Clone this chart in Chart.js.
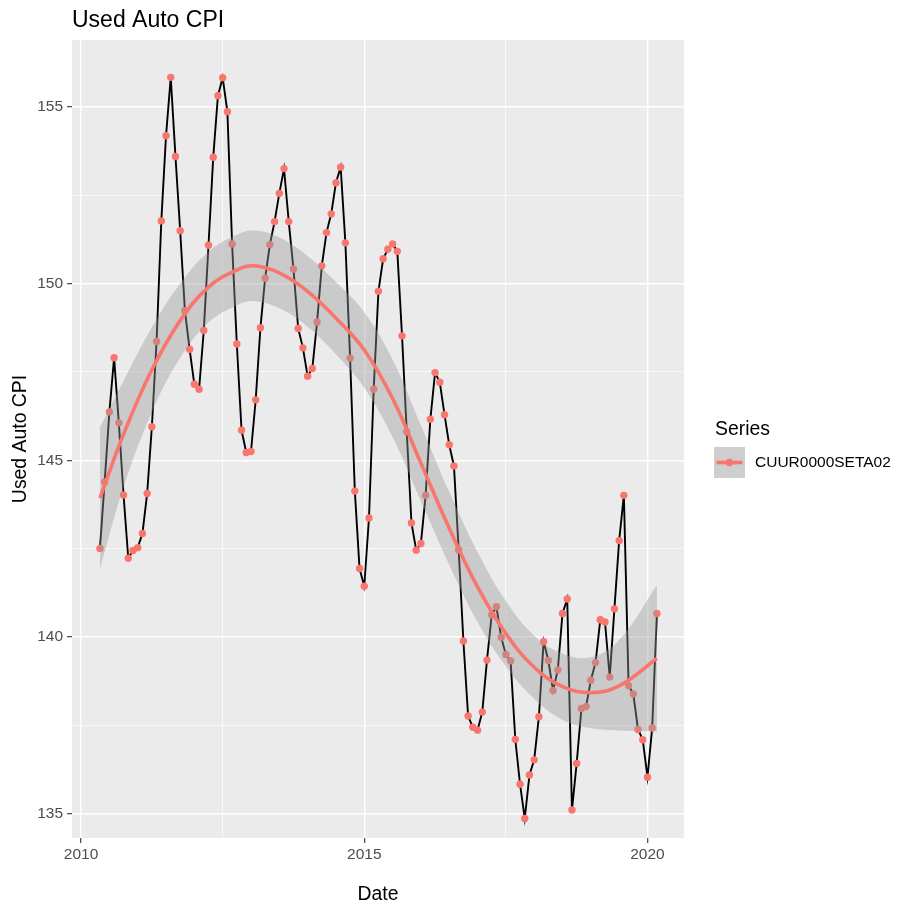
<!DOCTYPE html>
<html>
<head>
<meta charset="utf-8">
<title>Used Auto CPI</title>
<script src="https://cdn.jsdelivr.net/npm/chart.js@4.4.0/dist/chart.umd.min.js"></script>
<style>
  html, body { margin: 0; padding: 0; background: #ffffff; }
  canvas { display: block; }
</style>
</head>
<body>
<canvas id="cpi-chart" width="904" height="909"></canvas>
<script>
// monthly series, May 2010 .. Mar 2020
const startYear = 2010;
const startMonth = 5;
const cpiValues = [
  142.51, 144.39, 146.37, 147.90, 146.06, 144.02, 142.23, 142.45,
  142.53, 142.93, 144.06, 145.95, 148.36, 151.77, 154.18, 155.83, 153.59, 151.49, 149.23, 148.14,
  147.15, 147.01, 148.67, 151.08, 153.57, 155.31, 155.82, 154.86, 151.12, 148.29, 145.85, 145.22,
  145.25, 146.71, 148.75, 150.15, 151.10, 151.75, 152.55, 153.25, 151.75, 150.41, 148.73, 148.18,
  147.38, 147.60, 148.91, 150.50, 151.44, 151.97, 152.85, 153.29, 151.15, 147.89, 144.13, 141.94,
  141.44, 143.37, 147.01, 149.78, 150.70, 150.97, 151.12, 150.91, 148.52, 145.81, 143.23, 142.46,
  142.65, 144.01, 146.16, 147.48, 147.21, 146.29, 145.44, 144.84, 142.47, 139.89, 137.77, 137.45,
  137.37, 137.88, 139.35, 140.63, 140.86, 140.00, 139.51, 139.33, 137.11, 135.84, 134.87, 136.10,
  136.53, 137.75, 139.87, 139.34, 138.49, 139.07, 140.67, 141.08, 135.11, 136.43, 137.98, 138.04,
  138.78, 139.28, 140.49, 140.43, 138.87, 140.80, 142.73, 144.01, 138.63, 138.39, 137.39, 137.10,
  136.04, 137.43, 140.67
];

// loess smooth with its confidence band
const smoothYears = [2010.333, 2010.75, 2011.25, 2011.75, 2012.25, 2012.75, 2013.05, 2013.5, 2014.0, 2014.5,
  2015.0, 2015.5, 2016.0, 2016.5, 2017.0, 2017.5, 2018.0, 2018.5, 2019.0, 2019.5, 2020.167];
const smoothFit = [143.93, 145.74, 147.56, 148.95, 149.90, 150.38, 150.50, 150.30, 149.78, 149.02,
  148.12, 146.75, 144.92, 143.08, 141.42, 140.10, 139.15, 138.60, 138.43, 138.62, 139.40];
const smoothLower = [141.93, 144.24, 146.36, 147.90, 148.90, 149.38, 149.50, 149.30, 148.78, 148.00,
  147.05, 145.65, 143.85, 142.05, 140.43, 139.18, 138.26, 137.66, 137.43, 137.36, 137.33];
const smoothUpper = [145.93, 147.24, 148.76, 150.00, 150.90, 151.38, 151.50, 151.30, 150.78, 150.04,
  149.19, 147.85, 145.99, 144.11, 142.41, 141.02, 140.04, 139.54, 139.43, 139.92, 141.47];

const xTicks = [2010, 2012.5, 2015, 2017.5, 2020];
const yTicks = [135, 137.5, 140, 142.5, 145, 147.5, 150, 152.5, 155];
const seriesName = 'CUUR0000SETA02';

const months = cpiValues.map((v, i) => startYear + (startMonth - 1 + i) / 12);
const pts = cpiValues.map((v, i) => ({ x: months[i], y: v }));
const fitPts = smoothYears.map((x, i) => ({ x: x, y: smoothFit[i] }));
const loPts = smoothYears.map((x, i) => ({ x: x, y: smoothLower[i] }));
const hiPts = smoothYears.map((x, i) => ({ x: x, y: smoothUpper[i] }));

const isMajor = v => Math.abs(v % 5) < 1e-6;
const FONT = '"Liberation Sans", Arial, Helvetica, sans-serif';
const RED = '#F8766D';

Chart.defaults.font.family = FONT;

const panelBg = {
  id: 'panelBg',
  beforeDraw(chart) {
    const { ctx, chartArea: a } = chart;
    ctx.save();
    ctx.fillStyle = '#EBEBEB';
    ctx.fillRect(a.left, a.top, a.right - a.left, a.bottom - a.top);
    ctx.restore();
  }
};

const labels = {
  id: 'labels',
  afterDraw(chart) {
    const { ctx, chartArea: a } = chart;
    ctx.save();
    ctx.fillStyle = '#000000';
    // title
    ctx.font = '23px ' + FONT;
    ctx.textAlign = 'left';
    ctx.textBaseline = 'alphabetic';
    ctx.fillText('Used Auto CPI', a.left, 27);
    // axis titles
    ctx.font = '19.4px ' + FONT;
    ctx.textAlign = 'center';
    ctx.fillText('Date', (a.left + a.right) / 2, 900);
    ctx.save();
    ctx.translate(26, (a.top + a.bottom) / 2);
    ctx.rotate(-Math.PI / 2);
    ctx.fillText('Used Auto CPI', 0, 0);
    ctx.restore();
    // legend
    ctx.textAlign = 'left';
    ctx.fillText('Series', 715, 435);
    ctx.fillStyle = '#F2F2F2';
    ctx.fillRect(714, 447, 31, 31);
    ctx.fillStyle = 'rgba(153,153,153,0.4)';
    ctx.fillRect(714, 447, 31, 31);
    ctx.strokeStyle = RED;
    ctx.lineWidth = 3.6;
    ctx.beginPath();
    ctx.moveTo(716.5, 462.5);
    ctx.lineTo(742.5, 462.5);
    ctx.stroke();
    ctx.fillStyle = RED;
    ctx.beginPath();
    ctx.arc(729.5, 462.5, 3.7, 0, Math.PI * 2);
    ctx.fill();
    ctx.fillStyle = '#000000';
    ctx.font = '15.5px ' + FONT;
    ctx.textBaseline = 'middle';
    ctx.fillText(seriesName, 755, 463);
    ctx.restore();
  }
};

function gridOpts() {
  return {
    color: '#FFFFFF',
    lineWidth: c => (c.tick && isMajor(c.tick.value)) ? 1.4 : 0.7,
    tickColor: c => (c.tick && isMajor(c.tick.value)) ? '#333333' : 'rgba(0,0,0,0)',
    tickWidth: 1.1,
    tickLength: 5
  };
}

new Chart(document.getElementById('cpi-chart'), {
  type: 'line',
  data: {
    datasets: [
      { label: 'fit', data: fitPts, borderColor: RED, borderWidth: 3.6, pointRadius: 0,
        tension: 0.4, fill: false, order: 0 },
      { label: 'upper', data: hiPts, borderWidth: 0, borderColor: 'rgba(0,0,0,0)', pointRadius: 0,
        tension: 0.4, fill: { target: 2 }, backgroundColor: 'rgba(153,153,153,0.4)', order: 1 },
      { label: 'lower', data: loPts, borderWidth: 0, borderColor: 'rgba(0,0,0,0)', pointRadius: 0,
        tension: 0.4, fill: false, order: 1 },
      { label: seriesName, data: pts, showLine: false, pointRadius: 3.7, pointBorderWidth: 0,
        pointBackgroundColor: RED, fill: false, order: 2 },
      { label: 'line', data: pts, borderColor: '#000000', borderWidth: 1.9, pointRadius: 0,
        tension: 0, fill: false, order: 3 }
    ]
  },
  options: {
    responsive: false,
    animation: false,
    devicePixelRatio: 1,
    layout: { padding: { top: 40, right: 220, bottom: 0, left: 0 } },
    plugins: { legend: { display: false }, tooltip: { enabled: false }, title: { display: false } },
    scales: {
      x: {
        type: 'linear',
        min: 2009.84,
        max: 2020.645,
        afterBuildTicks: s => { s.ticks = xTicks.map(v => ({ value: v })); },
        afterFit: s => { s.height = 71; },
        border: { display: false },
        grid: gridOpts(),
        ticks: { autoSkip: false, maxRotation: 0, padding: 2, color: '#4D4D4D', font: { size: 15.5 },
          callback: v => isMajor(v) ? String(v) : '' }
      },
      y: {
        type: 'linear',
        min: 134.32,
        max: 156.886,
        afterBuildTicks: s => { s.ticks = yTicks.map(v => ({ value: v })); },
        afterFit: s => { s.width = 72; },
        border: { display: false },
        grid: gridOpts(),
        ticks: { autoSkip: false, padding: 4, color: '#4D4D4D', font: { size: 15.5 },
          callback: v => isMajor(v) ? String(v) : '' }
      }
    }
  },
  plugins: [panelBg, labels]
});
</script>
</body>
</html>
